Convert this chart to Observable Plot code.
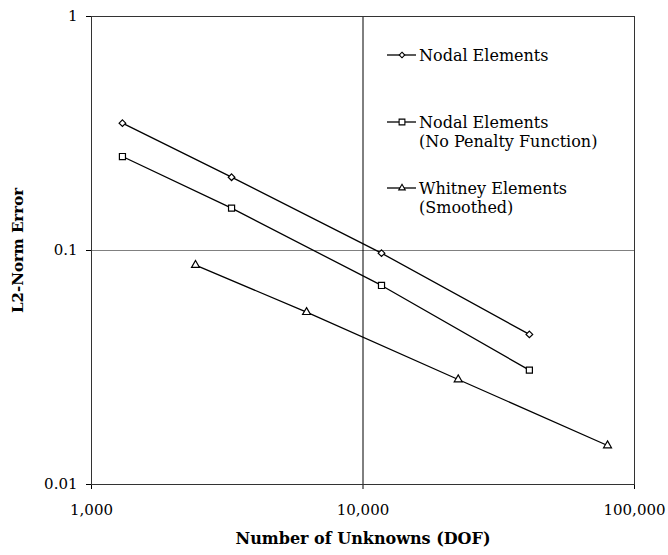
<!DOCTYPE html>
<html>
<head>
<meta charset="utf-8">
<script src="https://cdn.jsdelivr.net/npm/d3@7"></script>
<script src="https://cdn.jsdelivr.net/npm/@observablehq/plot@0.6"></script>
<style>
  html, body { margin: 0; padding: 0; background: #fff; }
  #chart svg { display: block; }
</style>
</head>
<body>
<div id="chart"></div>
<script>
// Convergence of the L2-norm error with mesh refinement (log-log)
const nodalDof = [1300, 3280, 11700, 41000];
const nodalErr = [0.350, 0.2057, 0.0974, 0.0438];

const nodalNoPenaltyDof = [1300, 3280, 11700, 41000];
const nodalNoPenaltyErr = [0.2521, 0.1517, 0.0709, 0.0308];

const whitneyDof = [2416, 6196, 22420, 79550];
const whitneyErr = [0.0866, 0.0545, 0.0281, 0.01468];

const xTicks = [1000, 10000, 100000];
const yTicks = [0.01, 0.1, 1];

const seriesNames = ["Nodal Elements", "Nodal Elements\n(No Penalty Function)", "Whitney Elements\n(Smoothed)"];
const seriesSymbols = ["diamond2", "square", "triangle"];

const series = [
  {dof: nodalDof, err: nodalErr},
  {dof: nodalNoPenaltyDof, err: nodalNoPenaltyErr},
  {dof: whitneyDof, err: whitneyErr}
].map((s, k) => s.dof.map((d, i) => ({dof: d, err: s.err[i], name: seriesNames[k], symbol: seriesSymbols[k]})));

const symbolR = {diamond2: 3.0, square: 3.9, triangle: 2.9};

const font = "'DejaVu Serif', serif";

const chart = Plot.plot({
  width: 668,
  height: 555,
  marginLeft: 91,
  marginRight: 34,
  marginTop: 16,
  marginBottom: 71,
  style: {fontFamily: font, fontSize: "15px", color: "#000", background: "#fff"},
  x: {type: "log", domain: [1000, 100000], ticks: xTicks, tickFormat: d3.format(","), tickSize: 5, tickPadding: 15, label: null},
  y: {type: "log", domain: [0.01, 1], ticks: yTicks, tickFormat: d => String(d), tickSize: 5, tickPadding: 9, label: null},
  marks: [
    Plot.ruleY([0.1], {stroke: "#808080", strokeWidth: 1}),
    Plot.ruleX([10000], {stroke: "#000", strokeWidth: 1}),
    Plot.frame({stroke: "#333", strokeWidth: 1}),
    ...series.map(s => Plot.line(s, {x: "dof", y: "err", stroke: "#000", strokeWidth: 1.3})),
    ...series.map(s => Plot.dot(s, {x: "dof", y: "err", symbol: d => d.symbol, r: d => symbolR[d.symbol], fill: "#fff", stroke: "#000", strokeWidth: 1.2})),
    Plot.text(["Number of Unknowns (DOF)"], {frameAnchor: "bottom", dy: 54, textAnchor: "middle", lineAnchor: "middle", fontWeight: "bold", fontSize: 16, fill: "#000"}),
    Plot.text(["L2-Norm Error"], {frameAnchor: "left", dx: -73, rotate: -90, textAnchor: "middle", lineAnchor: "middle", fontWeight: "bold", fontSize: 15, fill: "#000"})
  ]
});

document.getElementById("chart").appendChild(chart);

// Legend inside the upper-right part of the plot area
const svg = d3.select(chart);
const legend = svg.append("g")
  .attr("font-family", font)
  .attr("font-size", 16)
  .attr("text-anchor", "start");
const legendRows = [55, 122, 188];
const lineHeight = 19;
const symbolTypes = {diamond2: d3.symbolDiamond2, square: d3.symbolSquare, triangle: d3.symbolTriangle};
seriesNames.forEach((name, k) => {
  const g = legend.append("g").attr("transform", `translate(387,${legendRows[k]})`);
  g.append("line").attr("x1", 0).attr("x2", 29).attr("y1", 0).attr("y2", 0)
    .attr("stroke", "#000").attr("stroke-width", 1.3);
  const r = symbolR[seriesSymbols[k]];
  g.append("path")
    .attr("transform", "translate(15,0)")
    .attr("d", d3.symbol(symbolTypes[seriesSymbols[k]], Math.PI * r * r * 0.7)())
    .attr("fill", "#fff").attr("stroke", "#000").attr("stroke-width", 1.1);
  name.split("\n").forEach((line, j) => {
    g.append("text").attr("x", 32).attr("y", j * lineHeight).attr("dy", "0.35em")
      .attr("fill", "#000").text(line);
  });
});
</script>
</body>
</html>
